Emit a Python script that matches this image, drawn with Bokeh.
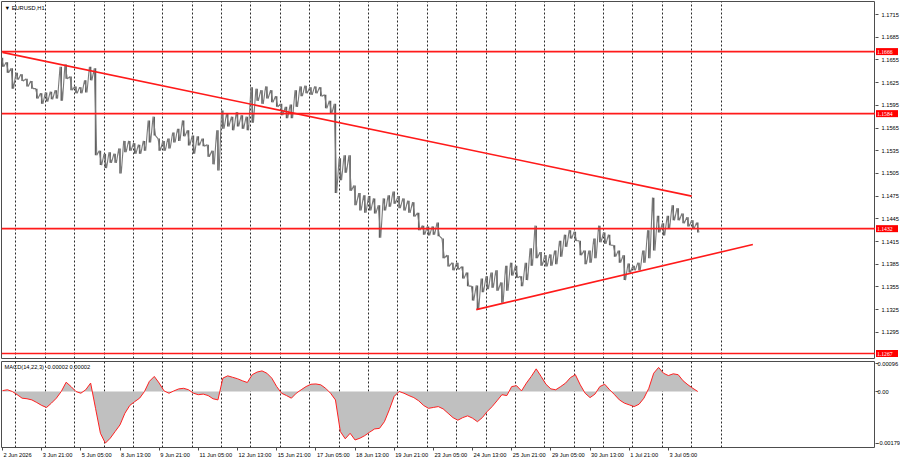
from bokeh.plotting import figure
from bokeh.models import (Range1d, FixedTicker, Span, Label, Grid, LinearAxis)
from bokeh.layouts import column, row
from bokeh.embed import file_html
from bokeh.resources import INLINE

# ---------------- data ----------------
symbol_title = "\u25BC EURUSD,H1"
macd_title = "MACD(14,22,3) -0.00002 0.00002"

bin_hours = 4  # each entry below summarises 4 hourly bars

high = [1.1658, 1.1652, 1.1644, 1.1638, 1.1636, 1.1630, 1.1627, 1.1617, 1.1611, 1.1612,
        1.1613, 1.1615, 1.1646, 1.1649, 1.1633, 1.1620, 1.1619, 1.1628, 1.1646, 1.1644,
        1.1535, 1.1531, 1.1533, 1.1531, 1.1538, 1.1548, 1.1548, 1.1545, 1.1543, 1.1548,
        1.1575, 1.1580, 1.1551, 1.1548, 1.1551, 1.1559, 1.1564, 1.1575, 1.1562, 1.1555,
        1.1554, 1.1551, 1.1543, 1.1535, 1.1562, 1.1588, 1.1584, 1.1580, 1.1586, 1.1582,
        1.1580, 1.1619, 1.1617, 1.1615, 1.1620, 1.1615, 1.1607, 1.1597, 1.1593, 1.1596,
        1.1615, 1.1620, 1.1621, 1.1619, 1.1620, 1.1619, 1.1609, 1.1601, 1.1597, 1.1525,
        1.1529, 1.1529, 1.1489, 1.1479, 1.1476, 1.1475, 1.1472, 1.1463, 1.1472, 1.1476,
        1.1481, 1.1475, 1.1472, 1.1469, 1.1467, 1.1453, 1.1436, 1.1435, 1.1435, 1.1440,
        1.1419, 1.1397, 1.1387, 1.1387, 1.1382, 1.1374, 1.1356, 1.1357, 1.1366, 1.1369,
        1.1374, 1.1377, 1.1361, 1.1383, 1.1387, 1.1383, 1.1369, 1.1387, 1.1406, 1.1436,
        1.1401, 1.1397, 1.1398, 1.1403, 1.1416, 1.1424, 1.1430, 1.1428, 1.1416, 1.1403,
        1.1403, 1.1419, 1.1436, 1.1427, 1.1424, 1.1410, 1.1403, 1.1397, 1.1386, 1.1383,
        1.1387, 1.1403, 1.1430, 1.1473, 1.1449, 1.1439, 1.1449, 1.1463, 1.1459, 1.1452,
        1.1447, 1.1443, 1.1440]

low = [1.1646, 1.1638, 1.1617, 1.1629, 1.1627, 1.1620, 1.1617, 1.1604, 1.1597, 1.1600,
       1.1603, 1.1604, 1.1601, 1.1630, 1.1615, 1.1611, 1.1611, 1.1612, 1.1628, 1.1529,
       1.1516, 1.1512, 1.1519, 1.1519, 1.1505, 1.1533, 1.1535, 1.1531, 1.1531, 1.1535,
       1.1546, 1.1555, 1.1535, 1.1535, 1.1538, 1.1546, 1.1548, 1.1554, 1.1542, 1.1531,
       1.1542, 1.1541, 1.1527, 1.1517, 1.1509, 1.1564, 1.1567, 1.1562, 1.1567, 1.1564,
       1.1562, 1.1572, 1.1601, 1.1597, 1.1604, 1.1599, 1.1593, 1.1582, 1.1578, 1.1578,
       1.1593, 1.1607, 1.1611, 1.1609, 1.1611, 1.1607, 1.1591, 1.1584, 1.1479, 1.1496,
       1.1506, 1.1482, 1.1463, 1.1456, 1.1453, 1.1456, 1.1452, 1.1420, 1.1456, 1.1461,
       1.1465, 1.1459, 1.1456, 1.1453, 1.1448, 1.1430, 1.1424, 1.1423, 1.1424, 1.1422,
       1.1393, 1.1382, 1.1377, 1.1378, 1.1366, 1.1356, 1.1337, 1.1325, 1.1348, 1.1352,
       1.1354, 1.1350, 1.1334, 1.1350, 1.1370, 1.1367, 1.1356, 1.1364, 1.1383, 1.1393,
       1.1383, 1.1382, 1.1383, 1.1385, 1.1395, 1.1408, 1.1419, 1.1416, 1.1397, 1.1385,
       1.1387, 1.1393, 1.1414, 1.1412, 1.1410, 1.1395, 1.1387, 1.1364, 1.1374, 1.1377,
       1.1377, 1.1387, 1.1393, 1.1403, 1.1427, 1.1423, 1.1432, 1.1443, 1.1443, 1.1439,
       1.1435, 1.1432, 1.1427]

macd = [0.00003, 0.00006, 0.0, -0.00011, -0.00023, -0.00025, -0.00029, -0.00038, -0.00048, -0.00055,
        -0.00040, -0.00023, 0.0, 0.00032, 0.00017, 0.0, -0.00006, 0.00006, 0.00029, -0.00058,
        -0.00144, -0.00178, -0.00161, -0.00138, -0.00115, -0.00075, -0.00048, -0.00035, -0.00023, 0.0,
        0.00035, 0.00052, 0.00029, 0.00002, -0.00006, 0.00002, 0.00009, 0.00011, 0.00006, -0.00006,
        -0.00011, -0.00009, -0.00014, -0.00025, -0.00029, 0.00046, 0.00054, 0.00049, 0.00044, 0.00037,
        0.00031, 0.00058, 0.00067, 0.00071, 0.00063, 0.00046, 0.00017, -0.00006, -0.00014, -0.00023,
        -0.00006, 0.00006, 0.00017, 0.00025, 0.00026, 0.00023, 0.00011, -0.00006, -0.00029, -0.00138,
        -0.00163, -0.00144, -0.00167, -0.00161, -0.00152, -0.00140, -0.00129, -0.00127, -0.00104, -0.00063,
        -0.00017, 0.0, -0.00006, -0.00014, -0.00021, -0.00032, -0.00048, -0.00058, -0.00055, -0.00052,
        -0.00060, -0.00075, -0.00090, -0.00099, -0.00090, -0.00084, -0.00092, -0.00104, -0.00090, -0.00069,
        -0.00052, -0.00032, -0.00011, -0.00014, 0.00017, 0.00020, 0.00002, 0.00029, 0.00052, 0.00078,
        0.00052, 0.00025, 0.00009, 0.00006, 0.00017, 0.00029, 0.00048, 0.00058, 0.00023, -0.00006,
        -0.00021, -0.00009, 0.00017, 0.00025, 0.00006, -0.00011, -0.00029, -0.00040, -0.00046, -0.00052,
        -0.00044, -0.00023, 0.00011, 0.00063, 0.00083, 0.00063, 0.00055, 0.00061, 0.00058, 0.00037,
        0.00023, 0.00011, 0.0]

levels = [1.1666, 1.1584, 1.1432, 1.1267]
level_labels = ["1.1666", "1.1584", "1.1432", "1.1267"]

down_trend_bar = [0, 563]
down_trend_price = [1.1665, 1.1475]
up_trend_bar = [387, 613]
up_trend_price = [1.1325, 1.1411]

price_ticks = [1.1295, 1.1325, 1.1355, 1.1385, 1.1415, 1.1445, 1.1475, 1.1505,
               1.1535, 1.1565, 1.1595, 1.1625, 1.1655, 1.1685, 1.1715]
macd_ticks = [-0.00179, 0.0, 0.00096]
macd_tick_labels = ["-0.00179", "0.00", "0.00096"]

time_labels = ["2 Jun 2026", "3 Jun 21:00", "5 Jun 05:00", "8 Jun 13:00", "9 Jun 21:00",
               "11 Jun 05:00", "12 Jun 13:00", "15 Jun 21:00", "17 Jun 05:00", "18 Jun 13:00",
               "19 Jun 21:00", "23 Jun 05:00", "24 Jun 13:00", "25 Jun 21:00", "29 Jun 05:00",
               "30 Jun 13:00", "1 Jul 21:00", "3 Jul 05:00"]
time_label_step = 32      # hourly bars between time labels
day_first_bar = 11        # first midnight (3 Jun 00:00)
day_bars = 24
n_days = 25

# ---------------- layout / style constants ----------------
FONT = "Liberation Sans"
FSZ = 5.7
FS = "%.1fpx" % FSZ
PX_PER_BAR = 1.224
X0, X1 = -0.82, 713.2
P_LO, P_HI = 1.12604, 1.17322
M_LO, M_HI = -0.00193, 0.001034
RED = "#ff1a1a"
BORDER = "#4d4d4d"

bar_x = [bin_hours * k for k in range(len(high))]
label_x = [time_label_step * n for n in range(len(time_labels))]
day_x = [day_first_bar + day_bars * n for n in range(n_days)]

# zig-zag path through each bin's high and low (dense bar look)
zig_x, zig_y = [], []
for bx, h, l in zip(bar_x, high, low):
    zig_x += [bx - 1, bx + 1]
    zig_y += [h, l]

# left-aligned time labels: shift each label centre by half its width
EM = {"0": .556, "1": .556, "2": .556, "3": .556, "4": .556, "5": .556, "6": .556,
      "7": .556, "8": .556, "9": .556, " ": .278, ":": .278, "J": .5, "u": .556,
      "n": .556, "l": .222}
def text_w(s):
    return sum(EM.get(c, .556) for c in s) * FSZ
label_mid = [round(lx + text_w(t) / 2 / PX_PER_BAR + 0.8, 3) for lx, t in zip(label_x, time_labels)]

xr = Range1d(X0, X1)


def base_fig(fh, yr, bottom_border):
    f = figure(frame_width=874, frame_height=fh, x_range=xr, y_range=yr,
               y_axis_location=None, x_axis_location=None, toolbar_location=None,
               output_backend="svg", min_border_left=1, min_border_top=1,
               min_border_bottom=bottom_border, min_border_right=0)
    f.xgrid.visible = False
    f.ygrid.visible = False
    f.outline_line_color = BORDER
    f.add_layout(Grid(dimension=0, ticker=FixedTicker(ticks=day_x), grid_line_color="#2a2a2a",
                      grid_line_dash="2 2", grid_line_width=1))
    return f


def side_fig(fh, yr, bottom_border, ticks, overrides, standoff):
    f = figure(frame_width=25, frame_height=fh, x_range=Range1d(0, 25), y_range=yr,
               y_axis_location="right", x_axis_location=None, toolbar_location=None,
               output_backend="svg", min_border_left=0, min_border_top=1,
               min_border_bottom=bottom_border, min_border_right=0)
    f.xgrid.visible = False
    f.ygrid.visible = False
    f.outline_line_color = None
    ax = f.yaxis[0]
    ax.ticker = FixedTicker(ticks=ticks)
    ax.major_label_overrides = overrides
    ax.major_label_text_font = FONT
    ax.major_label_text_font_size = FS
    ax.major_label_text_color = "#000000"
    ax.major_tick_out = 0
    ax.major_tick_in = 0
    ax.minor_tick_out = 0
    ax.minor_tick_in = 0
    ax.axis_line_color = None
    ax.major_label_standoff = standoff
    tick_ax = LinearAxis(ticker=FixedTicker(ticks=ticks),
                         major_label_overrides={t: "" for t in ticks},
                         major_tick_in=3, major_tick_out=0, minor_tick_in=0, minor_tick_out=0,
                         major_label_standoff=0, axis_line_color=None,
                         major_tick_line_color=BORDER, major_label_text_font_size="1px")
    f.add_layout(tick_ax, "left")
    return f


# ---------------- price panel ----------------
p1 = base_fig(357, Range1d(P_LO, P_HI), 2)
p1.vbar(x=bar_x, width=1.2, top=high, bottom=low, fill_color="#5e5e5e", line_color=None)
p1.line(zig_x, zig_y, line_color="#7a7a7a", line_width=1.1)

for lv in levels:
    p1.add_layout(Span(location=lv, dimension="width", line_color=RED, line_width=1.6))
p1.line(down_trend_bar, down_trend_price, line_color=RED, line_width=1.6)
p1.line(up_trend_bar, up_trend_price, line_color=RED, line_width=1.6)

p1.add_layout(Label(x=X0, y=P_HI, x_offset=3, y_offset=-3, text=symbol_title, text_font=FONT,
                    text_font_size=FS, text_color="#000000", text_align="left",
                    text_baseline="top"))

pa = side_fig(357, p1.y_range, 2, price_ticks,
              {t: "%.4f" % t for t in price_ticks}, -19)
pa.rect(x=[11.5] * len(levels), y=levels, width=22, height=7, width_units="screen",
        height_units="screen", fill_color="#ff0000", line_color=None, level="overlay")
pa.text(x=[1.5] * len(levels), y=levels, text=level_labels, text_color="white",
        text_font=FONT, text_font_size=FS, text_align="left", text_baseline="middle",
        level="overlay")

# ---------------- MACD panel ----------------
p2 = base_fig(86, Range1d(M_LO, M_HI), 13)
p2.varea(x=bar_x, y1=[0.0] * len(macd), y2=macd, fill_color="#c0c0c0")
p2.line(bar_x, macd, line_color="#ff2020", line_width=1)
p2.add_layout(Label(x=X0, y=M_HI, x_offset=3, y_offset=-2, text=macd_title, text_font=FONT,
                    text_font_size=FS, text_color="#000000", text_align="left",
                    text_baseline="top"))

tick_axis = LinearAxis(ticker=FixedTicker(ticks=label_x),
                       major_label_overrides={t: "" for t in label_x},
                       major_tick_out=3, major_tick_in=0, minor_tick_in=0, minor_tick_out=0,
                       major_label_standoff=0, axis_line_color=None,
                       major_tick_line_color=BORDER, major_label_text_font_size="1px")
p2.add_layout(tick_axis, "below")
text_axis = LinearAxis(ticker=FixedTicker(ticks=label_mid),
                       major_label_overrides={m: t for m, t in zip(label_mid, time_labels)},
                       major_tick_out=0, major_tick_in=0, minor_tick_in=0, minor_tick_out=0,
                       major_label_standoff=1, axis_line_color=None,
                       major_label_text_font=FONT, major_label_text_font_size=FS,
                       major_label_text_color="#000000")
p2.add_layout(text_axis, "below")

pb = side_fig(86, p2.y_range, 13, macd_ticks,
              {t: s for t, s in zip(macd_ticks, macd_tick_labels)}, -23)

layout = row(column(p1, p2, spacing=0), column(pa, pb, spacing=0), spacing=0)
open("out.html", "w").write(file_html(layout, INLINE))
